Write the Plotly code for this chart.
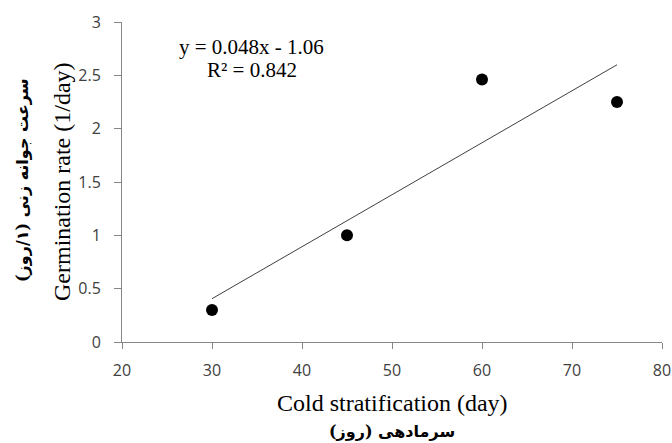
import numpy as np
import plotly.graph_objects as go

days = [30, 45, 60, 75]
rate = [0.30, 1.00, 2.46, 2.25]
x_ticks = [20, 30, 40, 50, 60, 70, 80]
y_ticks = [0, 0.5, 1, 1.5, 2, 2.5, 3]
y_tick_text = ["0", "0.5", "1", "1.5", "2", "2.5", "3"]

slope, intercept = np.polyfit(days, rate, 1)
fit_x = [min(days), max(days)]
fit_y = [slope * v + intercept for v in fit_x]

fig = go.Figure()
fig.add_trace(go.Scatter(x=fit_x, y=fit_y, mode="lines",
                         line=dict(color="#404040", width=1), showlegend=False))
fig.add_trace(go.Scatter(x=days, y=rate, mode="markers",
                         marker=dict(color="black", size=12), showlegend=False))

serif = "Liberation Serif, Times New Roman, serif"
sans = "Open Sans, DejaVu Sans, sans-serif"
arab = "DejaVu Serif, DejaVu Sans, serif"

W, H = 672, 443
l, r, t, b = 122, 10, 22, 101

fig.update_layout(
    width=W, height=H,
    margin=dict(l=l, r=r, t=t, b=b),
    paper_bgcolor="white", plot_bgcolor="white",
    xaxis=dict(range=[20, 80], tickvals=x_ticks, showgrid=False, zeroline=False,
               showline=True, linecolor="#868686", linewidth=1, automargin=False,
               ticks="outside", ticklen=6, tickcolor="#868686",
               ticklabelstandoff=8,
               tickfont=dict(family=sans, size=16, color="#404040")),
    yaxis=dict(range=[0, 3], tickvals=y_ticks, ticktext=y_tick_text, showgrid=False,
               zeroline=False, showline=True, linecolor="#868686", linewidth=1,
               automargin=False,
               ticks="outside", ticklen=7, tickcolor="#868686",
               ticklabelstandoff=10,
               tickfont=dict(family=sans, size=16, color="#404040")),
)

pw, ph = W - l - r, H - t - b


def add_text(text, px, py, font, angle=0):
    # px, py are positions in the browser window's pixels
    fig.add_annotation(text=text, xref="paper", yref="paper",
                       x=(px - l) / pw, y=1 - (py - t) / ph,
                       xanchor="center", yanchor="middle", showarrow=False,
                       textangle=angle, font=font)


add_text("y = 0.048x - 1.06", 251, 47, dict(family=serif, size=21, color="black"))
add_text("R² = 0.842", 252, 70, dict(family=serif, size=21, color="black"))
add_text("Cold stratification (day)", 392, 403, dict(family=serif, size=24, color="black"))
add_text("<b>سرمادهی (روز)</b>", 392, 431, dict(family=arab, size=16, color="black"))
add_text("Germination rate (1/day)", 62, 182, dict(family=serif, size=24, color="black"), -90)
add_text("<b>سرعت جوانه زنی (۱/روز)</b>", 22, 180, dict(family=arab, size=16, color="black"), -90)

fig.write_html(
    "out.html",
    config={"displayModeBar": False},
    post_script="document.body.style.margin='0';document.body.style.overflow='hidden';",
)
